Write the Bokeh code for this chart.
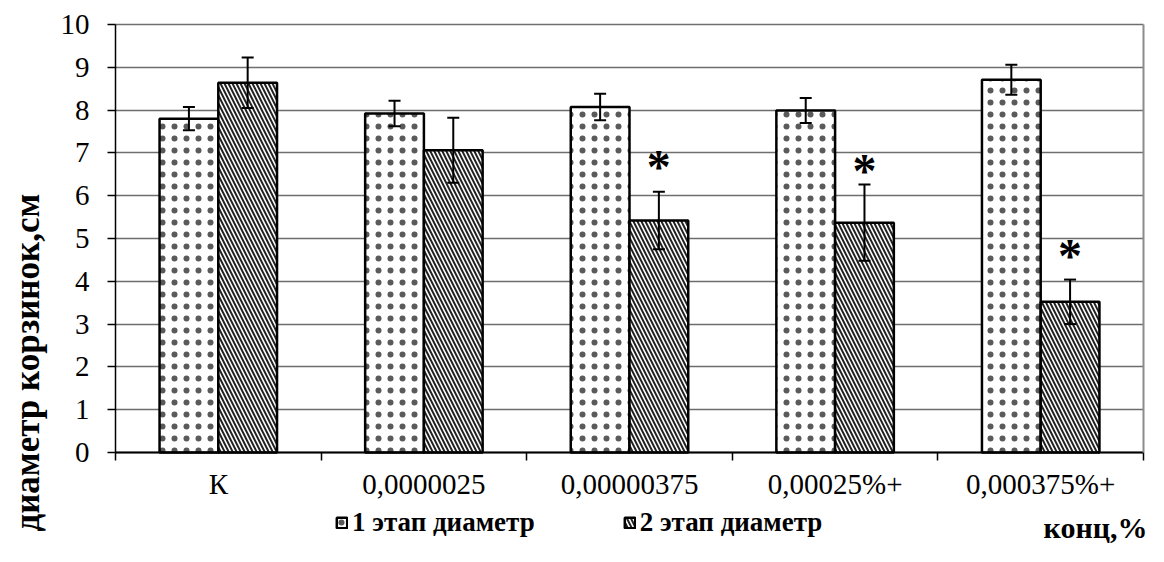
import math
from bokeh.plotting import figure
from bokeh.models import (ColumnDataSource, FixedTicker, Range1d, LinearAxis,
                          Whisker, TeeHead, Legend, LegendItem, Label)
from bokeh.core.properties import value
from bokeh.embed import file_html
from bokeh.resources import INLINE

categories = ["К", "0,0000025", "0,00000375", "0,00025%+", "0,000375%+"]
stage1 = [7.80, 7.92, 8.07, 7.99, 8.71]
stage1_err = [0.27, 0.30, 0.31, 0.29, 0.35]
stage2 = [8.64, 7.06, 5.42, 5.37, 3.52]
stage2_err = [0.59, 0.76, 0.67, 0.89, 0.52]
star_cat = [2, 3, 4]
star_y = [6.87, 6.78, 4.79]
y_ticks = [0, 1, 2, 3, 4, 5, 6, 7, 8, 9, 10]
series_names = ["1 этап диаметр", "2 этап диаметр"]
y_label = "диаметр корзинок,см"
x_label = "конц,%"

FONT = "Liberation Serif"
BOLD_FONT = "serif"
W, H = 1148, 546
n = len(categories)
ymax = y_ticks[-1]

# layout (pixels): the frame covers the whole canvas; data origin placed via ranges
LEFT_PX, TOP_PX, ZERO_PX = 115, 24, 452
XU = (W - 5 - LEFT_PX) / n
YU = (ZERO_PX - TOP_PX) / ymax
x_start = -LEFT_PX / XU
x_end = (W - LEFT_PX) / XU
y_end = ymax + TOP_PX / YU
y_start = -(H - ZERO_PX) / YU

w = 1 / 3.5
centers = [i + 0.5 for i in range(n)]
x1 = [c - w / 2 for c in centers]
x2 = [c + w / 2 for c in centers]

src1 = ColumnDataSource(dict(x=x1, top=stage1,
                             lo=[v - e for v, e in zip(stage1, stage1_err)],
                             hi=[v + e for v, e in zip(stage1, stage1_err)]))
src2 = ColumnDataSource(dict(x=x2, top=stage2,
                             lo=[v - e for v, e in zip(stage2, stage2_err)],
                             hi=[v + e for v, e in zip(stage2, stage2_err)]))

p = figure(width=W, height=H, output_backend="svg", toolbar_location=None,
           x_range=Range1d(x_start, x_end), y_range=Range1d(y_start, y_end),
           min_border_left=0, min_border_right=0, min_border_top=0, min_border_bottom=0)
p.background_fill_color = "white"
p.border_fill_color = "white"
p.outline_line_color = None

# horizontal grid lines 0..10 spanning only the category area
p.xgrid.grid_line_color = None
grid = p.ygrid[0]
if "cross_bounds" in grid.properties():
    grid.ticker = FixedTicker(ticks=y_ticks)
    grid.bounds = (y_start, y_end)
    grid.cross_bounds = (0, n)
    grid.grid_line_color = "#6e6e6e"
    grid.grid_line_width = 1.5
else:
    grid.grid_line_color = None
    p.segment(x0=[0] * len(y_ticks), x1=[n] * len(y_ticks), y0=y_ticks, y1=y_ticks,
              line_color="#6e6e6e", line_width=1.5)

r1 = p.vbar(x="x", top="top", width=w, source=src1, fill_color="white",
            line_color="black", line_width=2.5,
            hatch_pattern="dot", hatch_color="#5a5a5a", hatch_scale=12, hatch_weight=2.2)
r2 = p.vbar(x="x", top="top", width=w, source=src2, fill_color="white",
            line_color="black", line_width=2.5,
            hatch_pattern="left_diagonal_line", hatch_color="#222222", hatch_scale=8, hatch_weight=2)

for s in (src1, src2):
    wk = Whisker(base="x", lower="lo", upper="hi", source=s, level="overlay",
                 line_color="black", line_width=2,
                 upper_head=TeeHead(size=12, line_width=2, line_color="black"),
                 lower_head=TeeHead(size=12, line_width=2, line_color="black"))
    p.add_layout(wk)

star_src = ColumnDataSource(dict(x=[x2[i] for i in star_cat], y=star_y, t=["*"] * len(star_cat)))
p.text(x="x", y="y", text="t", source=star_src, text_font=value(BOLD_FONT), text_font_style="bold",
       text_font_size="48px", text_align="center", text_baseline="middle", y_offset=8,
       text_color="black")

# x axis at y = 0
xa = p.xaxis[0]
xa.fixed_location = 0
xa.bounds = (0, n)
xa.ticker = FixedTicker(ticks=centers, minor_ticks=list(range(n + 1)))
xa.major_label_overrides = {c: lab for c, lab in zip(centers, categories)}
xa.major_tick_line_color = None
xa.major_tick_out = 0
xa.major_tick_in = 0
xa.minor_tick_line_color = "black"
xa.minor_tick_line_width = 1.5
xa.minor_tick_out = 8
xa.minor_tick_in = 0
xa.axis_line_color = "black"
xa.axis_line_width = 2
xa.major_label_text_font = FONT
xa.major_label_text_font_size = "29px"
xa.major_label_text_color = "black"
xa.major_label_standoff = 7

# y axis at x = 0
ya = p.yaxis[0]
ya.fixed_location = 0
ya.bounds = (0, ymax)
ya.ticker = FixedTicker(ticks=y_ticks)
ya.minor_tick_line_color = None
ya.major_tick_line_color = "black"
ya.major_tick_line_width = 1.5
ya.major_tick_out = 8
ya.major_tick_in = 0
ya.axis_line_color = "black"
ya.axis_line_width = 1.5
ya.major_label_text_font = FONT
ya.major_label_text_font_size = "29px"
ya.major_label_text_color = "black"
ya.major_label_standoff = 18

# right border of the plot area
ra = LinearAxis(fixed_location=n, bounds=(0, ymax), ticker=FixedTicker(ticks=[]),
                axis_line_color="#8c8c8c", axis_line_width=2,
                major_tick_line_color=None, minor_tick_line_color=None,
                major_label_text_font_size="0px")
p.add_layout(ra, "right")

ylab = Label(x=(27 - LEFT_PX) / XU, y=2.1, text=y_label, angle=math.pi / 2,
             text_font=BOLD_FONT, text_font_style="bold", text_font_size="35px",
             text_align="center", text_baseline="middle", text_color="black")
p.add_layout(ylab)

xlab = Label(x=x_end, y=-1.75, text=x_label, x_offset=-1,
             text_font=BOLD_FONT, text_font_style="bold", text_font_size="30px",
             text_align="right", text_baseline="middle", text_color="black")
p.add_layout(xlab)

legend = Legend(items=[LegendItem(label=series_names[0], renderers=[r1]),
                       LegendItem(label=series_names[1], renderers=[r2])],
                orientation="horizontal", location=(335, 8),
                label_text_font=BOLD_FONT, label_text_font_style="bold",
                label_text_font_size="27px", label_text_color="black",
                glyph_width=13, glyph_height=13, spacing=88, padding=4,
                label_standoff=4, margin=0,
                border_line_color=None, background_fill_alpha=0)
p.add_layout(legend)

open("out.html", "w").write(file_html(p, INLINE))
